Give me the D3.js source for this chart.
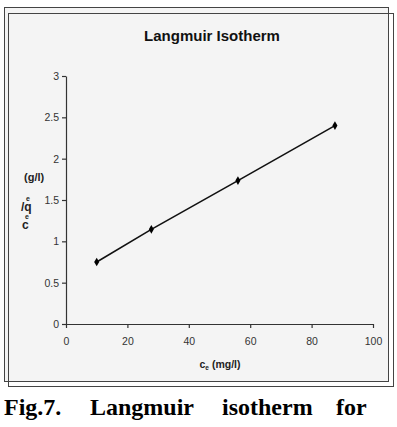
<!DOCTYPE html>
<html><head><meta charset="utf-8">
<script src="https://cdn.jsdelivr.net/npm/d3@7"></script>
<style>body{margin:0;background:#fff}svg{display:block}</style>
</head><body>
<svg id="c" width="397" height="427"></svg>
<script>
const xValues = [10, 27.8, 56, 87.6];
const yValues = [0.75, 1.145, 1.735, 2.4];
const xTicks = [0, 20, 40, 60, 80, 100];
const yTicks = [0, 0.5, 1, 1.5, 2, 2.5, 3];
const yTickLabels = ["0", "0.5", "1", "1.5", "2", "2.5", "3"];

const svg = d3.select("#c");
// frames
svg.append("rect").attr("x", 4.5).attr("y", 7.5).attr("width", 384).attr("height", 374)
  .attr("fill", "#f4f4f4").attr("stroke", "#444").attr("stroke-width", 1);
svg.append("rect").attr("x", 8.5).attr("y", 13.5).attr("width", 385).attr("height", 373)
  .attr("fill", "none").attr("stroke", "#444").attr("stroke-width", 1);

const x = d3.scaleLinear().domain([0, 100]).range([66, 373]);
const y = d3.scaleLinear().domain([0, 3]).range([324, 76]);

const font = "Liberation Sans, Arial, sans-serif";

const gx = svg.append("g").attr("transform", "translate(0,324)")
  .call(d3.axisBottom(x).tickValues(xTicks).tickSize(4).tickPadding(10).tickSizeOuter(0));
const gy = svg.append("g").attr("transform", "translate(66,0)")
  .call(d3.axisLeft(y).tickValues(yTicks).tickFormat((d, i) => yTickLabels[i]).tickSize(4).tickPadding(3).tickSizeOuter(0));
[gx, gy].forEach(g => {
  g.selectAll("path,line").attr("stroke", "#333").attr("stroke-width", 1.2);
  g.selectAll("text").attr("font-family", font).attr("font-size", 10.5).attr("fill", "#333");
});

const data = xValues.map((v, i) => [v, yValues[i]]);
svg.append("path").datum(data)
  .attr("d", d3.line().x(d => x(d[0])).y(d => y(d[1])))
  .attr("fill", "none").attr("stroke", "#111").attr("stroke-width", 1.6);
svg.selectAll(".pt").data(data).enter().append("path")
  .attr("transform", d => `translate(${x(d[0])},${y(d[1])})`)
  .attr("d", d3.symbol(d3.symbolDiamond, 22))
  .attr("fill", "#000");

// title
svg.append("text").attr("x", 212).attr("y", 41).attr("text-anchor", "middle")
  .attr("font-family", font).attr("font-weight", "bold").attr("font-size", 15).attr("fill", "#111")
  .text("Langmuir Isotherm");

// x label
const xl = svg.append("text").attr("x", 220).attr("y", 368).attr("text-anchor", "middle")
  .attr("font-family", font).attr("font-weight", "bold").attr("font-size", 10.5).attr("fill", "#222");
xl.append("tspan").text("c");
xl.append("tspan").attr("font-size", 6.5).attr("dy", 1.5).text("e");
xl.append("tspan").attr("dy", -1.5).text(" (mg/l)");

// y label (stacked, as in reference)
svg.append("text").attr("x", 24).attr("y", 181)
  .attr("font-family", font).attr("font-weight", "bold").attr("font-size", 11).attr("fill", "#222")
  .text("(g/l)");
const yl = svg.append("text")
  .attr("font-family", font).attr("font-weight", "bold").attr("fill", "#222");
yl.append("tspan").attr("x", 26).attr("y", 201).attr("font-size", 7).text("e");
yl.append("tspan").attr("x", 21).attr("y", 211).attr("font-size", 12).text("/q");
yl.append("tspan").attr("x", 25).attr("y", 219).attr("font-size", 7).text("e");
yl.append("tspan").attr("x", 22).attr("y", 229).attr("font-size", 12).text("c");

// caption
const cap = [["Fig.7.", 4], ["Langmuir", 90], ["isotherm", 222], ["for", 336]];
cap.forEach(([t, xx]) => svg.append("text").attr("x", xx).attr("y", 415)
  .attr("font-family", "Liberation Serif, Times New Roman, serif").attr("font-weight", "bold")
  .attr("font-size", 24).attr("fill", "#000").text(t));
</script>
</body></html>
